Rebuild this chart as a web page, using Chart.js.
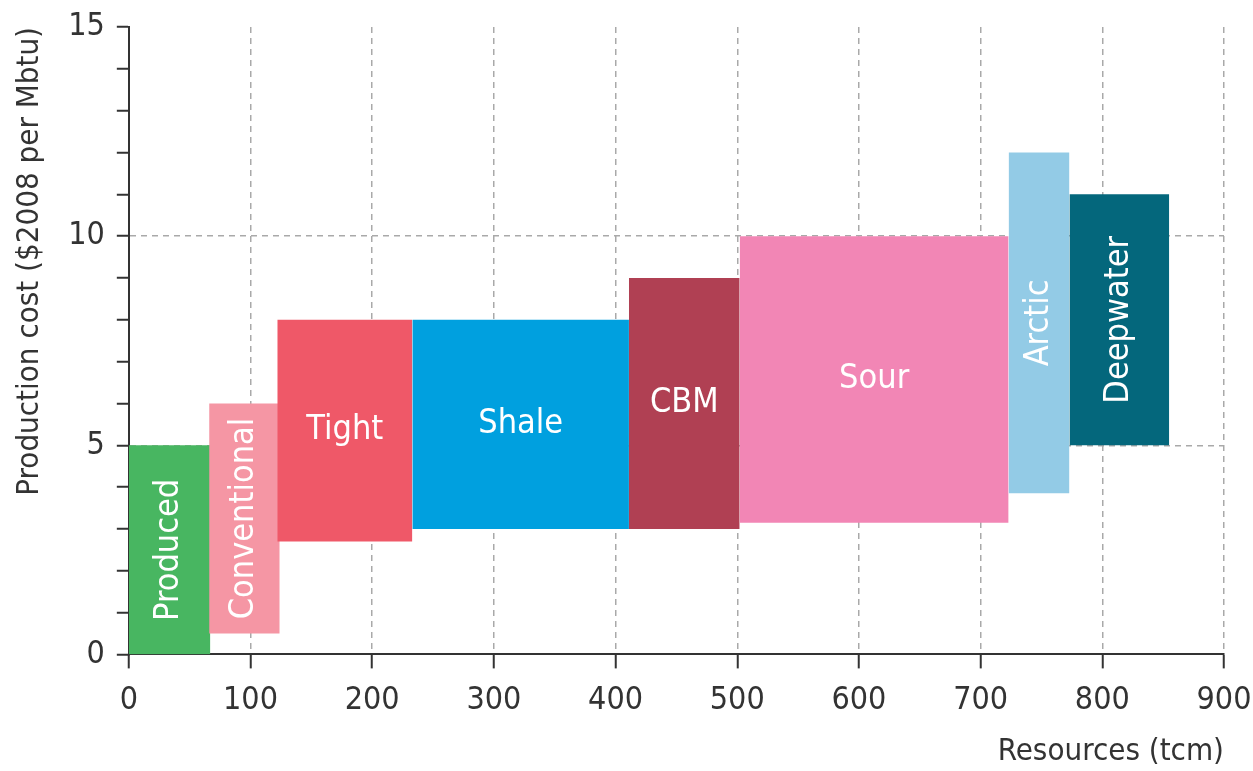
<!DOCTYPE html>
<html>
<head>
<meta charset="utf-8">
<script src="https://cdn.jsdelivr.net/npm/chart.js@4"></script>
<style>
  html, body { margin: 0; padding: 0; background: #fff; }
  #chart { display: block; }
</style>
</head>
<body>
<canvas id="chart" width="1253" height="771"></canvas>
<script>
// ------------------------------------------------------------
// Gas resources supply cost curve
// ------------------------------------------------------------

const categories = ['Produced', 'Conventional', 'Tight', 'Shale', 'CBM', 'Sour', 'Arctic', 'Deepwater'];
const resStart  = [0, 66, 122, 233, 411, 502, 723, 773];     // tcm
const resEnd    = [67, 124, 233, 411, 502, 723, 773, 855];   // tcm
const costLow   = [0, 0.5, 2.7, 3.0, 3.0, 3.15, 3.85, 5.0];  // $/Mbtu
const costHigh  = [5, 6, 8, 8, 9, 10, 12, 11];               // $/Mbtu
const xTicks    = [0, 100, 200, 300, 400, 500, 600, 700, 800, 900];
const yTickLabels = [0, 5, 10, 15];

const colors = ['#48b661', '#f596a4', '#ef5868', '#00a0df', '#b04053', '#f286b5', '#93cbe6', '#04677c'];
const vertical = ['Produced', 'Conventional', 'Arctic', 'Deepwater'];

const FONT = "'Liberation Sans Narrow', 'DejaVu Sans Condensed', 'Arial Narrow', sans-serif";
const TEXT = '#333';

// each block: a flat line at the top cost, filled down to the low cost
const datasets = categories.map((name, i) => ({
  label: name,
  data: [{ x: resStart[i], y: costHigh[i] }, { x: resEnd[i], y: costHigh[i] }],
  showLine: true,
  borderWidth: 0,
  borderColor: colors[i],
  backgroundColor: colors[i],
  fill: { value: costLow[i] },
  pointRadius: 0,
  order: categories.length - i,
}));

// block names in white, centred in each block
const blockLabels = {
  id: 'blockLabels',
  afterDatasetsDraw(chart) {
    const { ctx, scales: { x, y } } = chart;
    ctx.save();
    ctx.fillStyle = '#fff';
    ctx.font = `34px ${FONT}`;
    ctx.textAlign = 'center';
    ctx.textBaseline = 'middle';
    categories.forEach((name, i) => {
      const cx = x.getPixelForValue((resStart[i] + resEnd[i]) / 2);
      const cy = y.getPixelForValue((costLow[i] + costHigh[i]) / 2);
      ctx.save();
      ctx.translate(cx, cy);
      if (vertical.includes(name)) ctx.rotate(-Math.PI / 2);
      ctx.fillText(name, 0, 0);
      ctx.restore();
    });
    ctx.restore();
  }
};

new Chart(document.getElementById('chart'), {
  type: 'scatter',
  data: { datasets },
  options: {
    responsive: false,
    animation: false,
    layout: { padding: { top: 0, right: 0, bottom: 0, left: 11 } },
    plugins: {
      legend: { display: false },
      tooltip: { enabled: false },
      filler: { propagate: false },
    },
    scales: {
      x: {
        type: 'linear',
        min: 0,
        max: 900,
        afterBuildTicks: axis => { axis.ticks = xTicks.map(v => ({ value: v })); },
        afterFit: axis => { axis.paddingRight = 29; axis.paddingLeft = 0; },
        grid: {
          color: c => c.tick && c.tick.value === 0 ? 'transparent' : '#a9a9a9',
          lineWidth: 1.5,
          tickColor: '#333',
          tickWidth: 2,
          tickLength: 14,
        },
        border: { color: '#333', width: 2, dash: [6, 5] },
        ticks: {
          color: TEXT,
          font: { family: FONT, size: 32 },
          padding: 13,
          maxRotation: 0,
          autoSkip: false,
        },
        title: {
          display: true,
          text: 'Resources (tcm)',
          align: 'end',
          color: TEXT,
          font: { family: FONT, size: 31 },
          padding: { top: 1, bottom: 0 },
        }
      },
      y: {
        min: 0,
        max: 15,
        afterFit: axis => { axis.paddingTop = 27; axis.paddingBottom = 0; },
        ticks: {
          stepSize: 1,
          autoSkip: false,
          color: TEXT,
          font: { family: FONT, size: 32 },
          padding: 12,
          callback: v => yTickLabels.includes(v) ? v : '',
        },
        grid: {
          color: c => c.tick && (c.tick.value === 5 || c.tick.value === 10) ? '#a9a9a9' : 'transparent',
          lineWidth: 1.5,
          tickColor: '#333',
          tickWidth: 2,
          tickLength: 12,
        },
        border: { color: '#333', width: 2, dash: [6, 5] },
        title: {
          display: true,
          text: 'Production cost ($2008 per Mbtu)',
          align: 'end',
          color: TEXT,
          font: { family: FONT, size: 31 },
          padding: { top: 0, bottom: 8 },
        }
      }
    }
  },
  plugins: [blockLabels]
});
</script>
</body>
</html>
